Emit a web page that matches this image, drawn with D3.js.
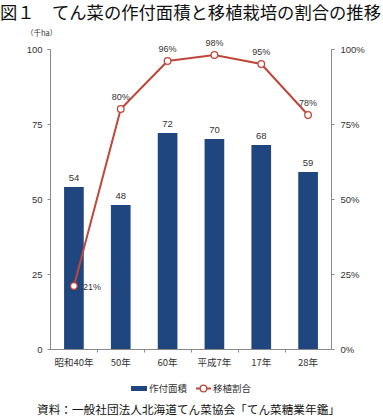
<!DOCTYPE html>
<html><head><meta charset="utf-8">
<script src="https://cdn.jsdelivr.net/npm/d3@7"></script>
<style>
html,body{margin:0;padding:0;background:#fff;}
svg{display:block;font-family:"Noto Sans CJK JP","Noto Sans",sans-serif;}
</style></head>
<body><svg id="c" width="383" height="417"></svg>
<script>
const categories = ["昭和40年","50年","60年","平成7年","17年","28年"];
const areaValues = [54,48,72,70,68,59];
const transplantPct = [21,80,96,98,95,78];
const leftTicks = [0,25,50,75,100];
const rightTicks = [0,25,50,75,100];
const titleText = "図１　てん菜の作付面積と移植栽培の割合の推移";
const sourceText = "資料：一般社団法人北海道てん菜協会「てん菜糖業年鑑」";
const unitText = "（千ha）";
const legendLabels = ["作付面積","移植割合"];

const svg = d3.select("#c");
const barColor = "#1f467e", lineColor = "#c0463a", axisColor = "#8a8a8a", textColor = "#333";

const x = d3.scaleBand().domain(categories).range([50.5, 331.5]).padding(0);
const yL = d3.scaleLinear().domain([0,100]).range([349,49]);
const yR = d3.scaleLinear().domain([0,100]).range([349,49]);
const bw = x.bandwidth()*0.42;
const cx = d => x(d)+x.bandwidth()/2;

// title
svg.append("text").attr("x",0).attr("y",19).attr("font-size",17.3).attr("fill","#111")
  .attr("textLength",381).attr("lengthAdjust","spacingAndGlyphs").text(titleText);

// unit
svg.append("text").attr("x",26).attr("y",36).attr("font-size",7.5).attr("fill",textColor).text(unitText);

// left axis
const gL = svg.append("g").attr("transform","translate(50.5,0)")
  .call(d3.axisLeft(yL).tickValues(leftTicks).tickSize(3).tickPadding(5));
gL.selectAll("path,line").attr("stroke",axisColor);
gL.select(".domain").attr("d","M-3,49.5H0V349.5");
gL.selectAll("text").attr("font-size",9.5).attr("fill",textColor).attr("font-family","Liberation Sans, Arial, sans-serif");

// right axis
const gR = svg.append("g").attr("transform","translate(331.5,0)")
  .call(d3.axisRight(yR).tickValues(rightTicks).tickSize(3).tickPadding(6).tickFormat(d=>d+"%"));
gR.selectAll("path,line").attr("stroke",axisColor);
gR.select(".domain").attr("d","M3,49.5H0V349.5");
gR.selectAll("text").attr("font-size",9.5).attr("fill",textColor).attr("font-family","Liberation Sans, Arial, sans-serif");

// x axis baseline with separators
const gX = svg.append("g").attr("transform","translate(0,349.5)");
gX.append("line").attr("x1",50.5).attr("x2",331.5).attr("stroke",axisColor);
gX.selectAll("line.sep").data(categories.slice(1)).join("line").attr("class","sep")
  .attr("x1",d=>Math.round(x(d))+0.5).attr("x2",d=>Math.round(x(d))+0.5).attr("y1",0).attr("y2",3).attr("stroke",axisColor);
gX.selectAll("text").data(categories).join("text")
  .attr("x",d=>cx(d)).attr("y",16).attr("text-anchor","middle").attr("font-size",9.5).attr("fill",textColor).text(d=>d);

// bars
svg.selectAll("rect.bar").data(areaValues).join("rect").attr("class","bar")
  .attr("x",(d,i)=>cx(categories[i])-bw/2).attr("width",bw)
  .attr("y",d=>yL(d)).attr("height",d=>yL(0)-yL(d)).attr("fill",barColor);
svg.selectAll("text.bl").data(areaValues).join("text").attr("class","bl")
  .attr("x",(d,i)=>cx(categories[i])).attr("y",d=>yL(d)-6).attr("text-anchor","middle")
  .attr("font-size",9.5).attr("fill",textColor).attr("font-family","Liberation Sans, Arial, sans-serif").text(d=>d);

// line
const line = d3.line().x((d,i)=>cx(categories[i])).y(d=>yR(d));
svg.append("path").datum(transplantPct).attr("d",line).attr("fill","none").attr("stroke",lineColor).attr("stroke-width",2);
svg.selectAll("circle.pt").data(transplantPct).join("circle").attr("class","pt")
  .attr("cx",(d,i)=>cx(categories[i])).attr("cy",d=>yR(d)).attr("r",3.3)
  .attr("fill","#fff").attr("stroke",lineColor).attr("stroke-width",1.3);
svg.selectAll("text.pl").data(transplantPct).join("text").attr("class","pl")
  .attr("x",(d,i)=>i===0?cx(categories[i])+9:cx(categories[i]))
  .attr("y",(d,i)=>i===0?yR(d)+3.5:yR(d)-9)
  .attr("text-anchor",(d,i)=>i===0?"start":"middle")
  .attr("font-size",9).attr("fill",textColor).attr("font-family","Liberation Sans, Arial, sans-serif").text(d=>d+"%");

// legend
const lg = svg.append("g");
lg.append("rect").attr("x",131).attr("y",386).attr("width",16).attr("height",5).attr("fill",barColor);
lg.append("text").attr("x",149).attr("y",392).attr("font-size",9.5).attr("fill",textColor).text(legendLabels[0]);
lg.append("line").attr("x1",196).attr("x2",211).attr("y1",388.5).attr("y2",388.5).attr("stroke",lineColor).attr("stroke-width",2);
lg.append("circle").attr("cx",203.5).attr("cy",388.5).attr("r",3.3).attr("fill","#fff").attr("stroke",lineColor).attr("stroke-width",1.3);
lg.append("text").attr("x",213).attr("y",392).attr("font-size",9.5).attr("fill",textColor).text(legendLabels[1]);

// source
svg.append("text").attr("x",37).attr("y",414).attr("font-size",11.6).attr("fill","#111")
  .attr("textLength",303).attr("lengthAdjust","spacingAndGlyphs").text(sourceText);
</script></body></html>
